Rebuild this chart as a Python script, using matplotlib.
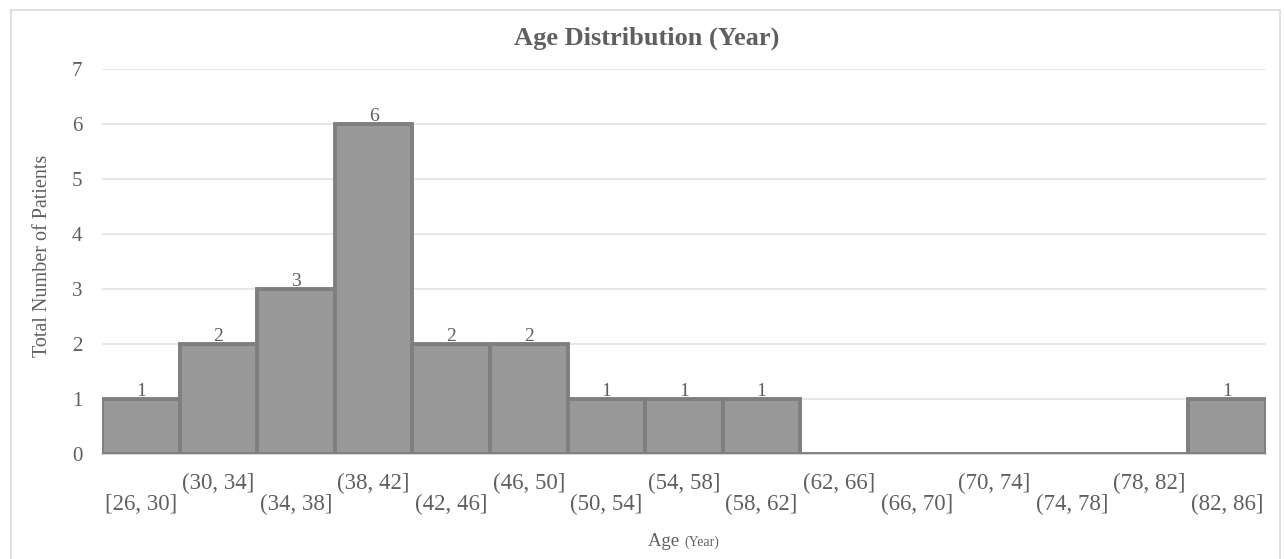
import matplotlib
matplotlib.use("Agg")
import matplotlib.pyplot as plt
from matplotlib.patches import Rectangle

bins = ["[26, 30]", "(30, 34]", "(34, 38]", "(38, 42]", "(42, 46]", "(46, 50]",
        "(50, 54]", "(54, 58]", "(58, 62]", "(62, 66]", "(66, 70]", "(70, 74]",
        "(74, 78]", "(78, 82]", "(82, 86]"]
counts = [1, 2, 3, 6, 2, 2, 1, 1, 1, 0, 0, 0, 0, 0, 1]
yticks = [0, 1, 2, 3, 4, 5, 6, 7]

plt.rcParams['font.family'] = ['Liberation Serif', 'DejaVu Serif']
txt = '#5f5f5f'

fig = plt.figure(figsize=(12.84, 5.59), dpi=100)
fig.patch.set_facecolor('white')
fig.add_artist(Rectangle((11/1284, -0.02), (1280-11)/1284, 1.02 - 10/559,
                         transform=fig.transFigure, fill=False,
                         edgecolor='#d9d9d9', linewidth=1.2))

ax = fig.add_axes([102/1284, 1-454/559, (1266-102)/1284, (454-69)/559])
x = list(range(len(bins)))
bars = ax.bar(x, counts, width=1.0, color='#999999', edgecolor='#7f7f7f',
              linewidth=2.8, zorder=3)
for xi, c in zip(x, counts):
    if c > 0:
        ax.text(xi, c - 0.02, str(c), ha='center', va='bottom', fontsize=14,
                color=txt, zorder=4)

ax.set_xlim(-0.5, len(bins) - 0.5)
ax.set_ylim(0, 7)
ax.set_yticks(yticks)
ax.set_yticklabels([str(v) for v in yticks], fontsize=15, color=txt)
ax.grid(axis='y', color='#e3e3e3', linewidth=1.2, zorder=0)
ax.tick_params(axis='both', length=0)
ax.tick_params(axis='y', pad=14)
for s in ['top', 'right', 'left']:
    ax.spines[s].set_visible(False)
ax.spines['bottom'].set_color('#d0d0d0')
ax.spines['bottom'].set_linewidth(1.2)

ax.set_xticks(x)
ax.set_xticklabels([''] * len(bins))
for xi, lab in zip(x, bins):
    yoff = -0.53 if xi % 2 == 1 else -0.92
    ax.text(xi, yoff, lab, ha='center', va='center', fontsize=16.5,
            color=txt, transform=ax.transData, clip_on=False)

fig.text(684/1284, 1-541/559, "Age ", ha='right', va='center', fontsize=13.5, color=txt)
fig.text(684/1284, 1-542/559, "(Year)", ha='left', va='center', fontsize=10, color=txt)
fig.text(43/1284, 1-256/559, "Total Number of Patients", rotation=90,
         ha='center', va='center', fontsize=14.5, color=txt)
fig.text(647/1284, 1-38/559, "Age Distribution (Year)", ha='center', va='center',
         fontsize=19, fontweight='bold', color=txt)

fig.savefig("out.png", dpi=100)
